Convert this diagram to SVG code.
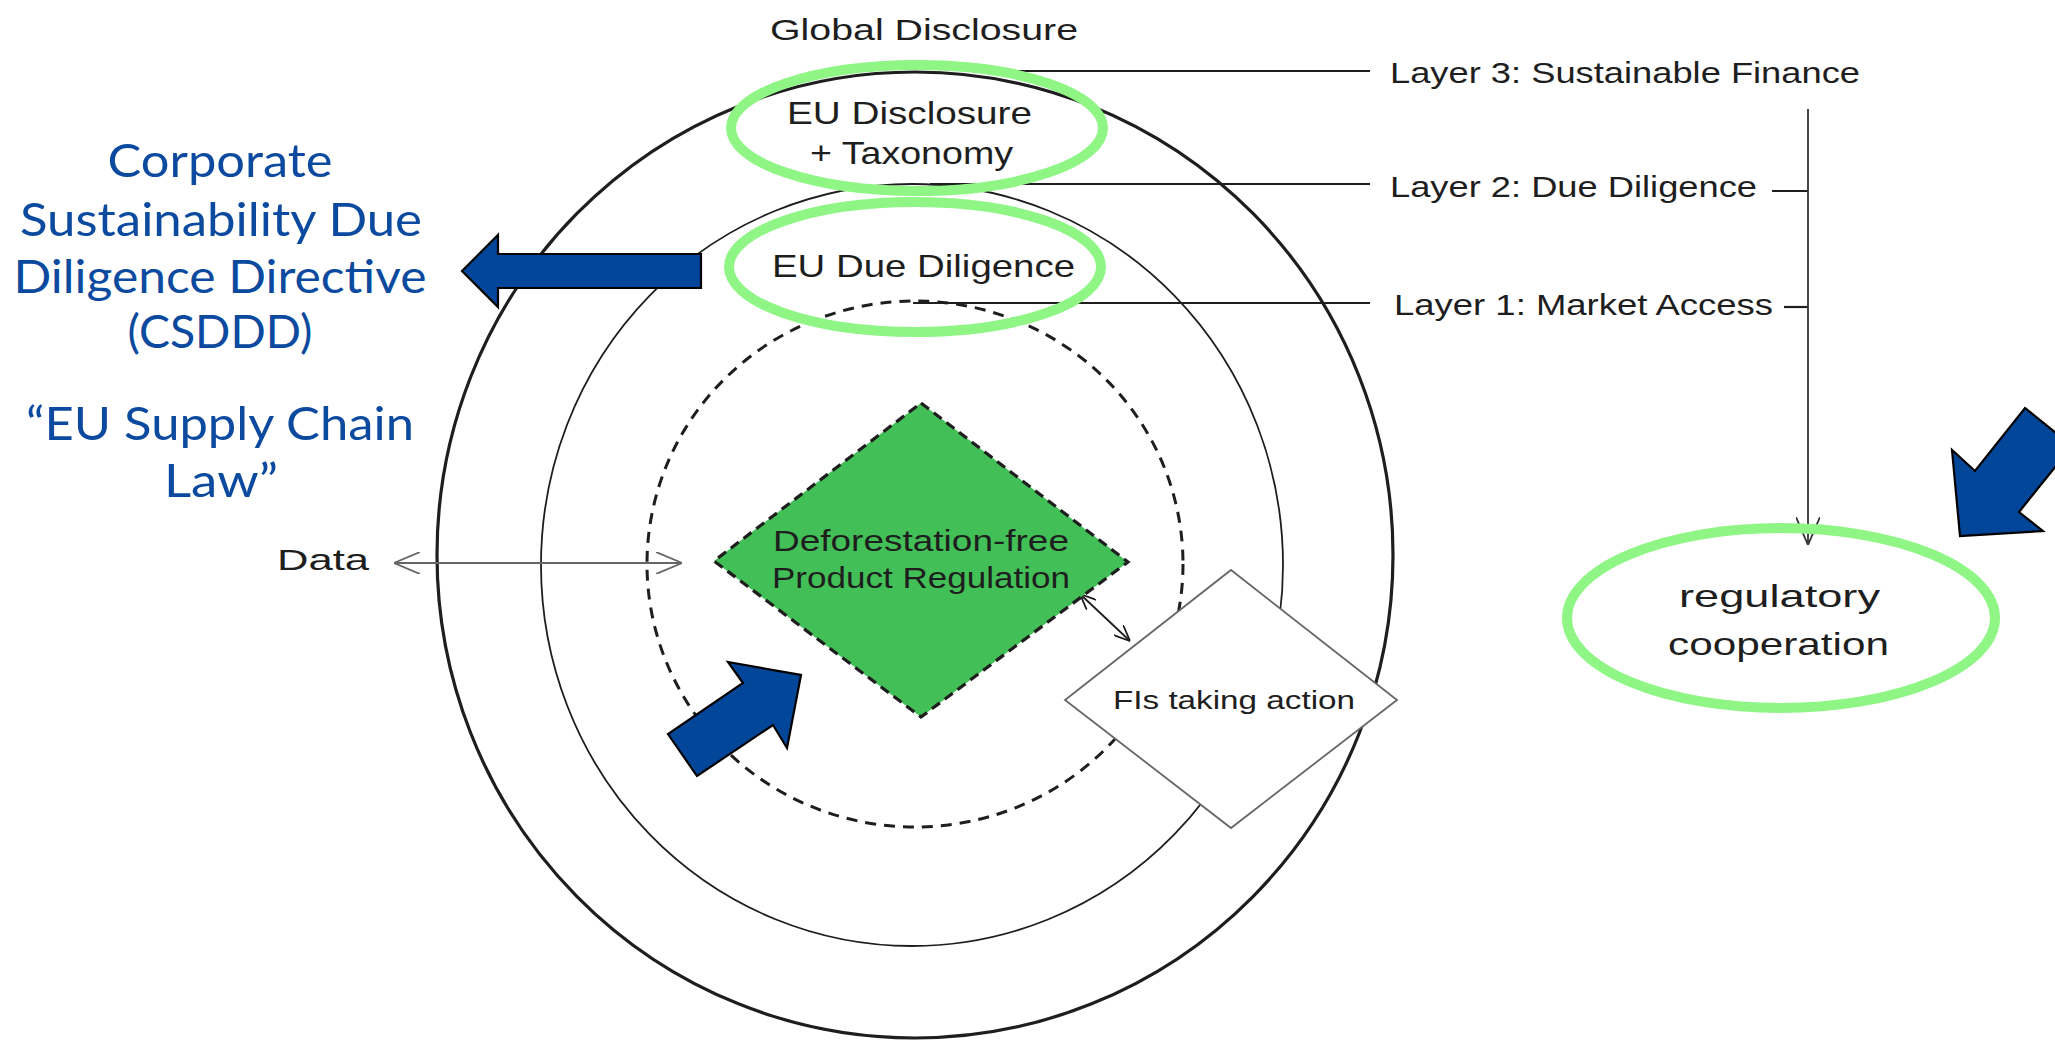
<svg xmlns="http://www.w3.org/2000/svg" width="2055" height="1040" viewBox="0 0 2055 1040">
<style>
.hand{font-family:"Liberation Sans","DejaVu Sans",sans-serif;fill:#1e1e1e;}
.blue{font-family:Lato,"Open Sans",sans-serif;fill:#0b4a9e;font-size:46px;text-anchor:middle;}
.ring{fill:none;stroke:#1e1e1e;}
.hl{fill:none;stroke:#8ff686;stroke-width:10;}
.barrow{fill:#02469a;stroke:#000;stroke-width:2.2;stroke-linejoin:miter;}
.conn{fill:none;stroke:#1e1e1e;stroke-width:2.2;}
</style>
<defs>
<marker id="openLg" viewBox="0 0 28 24" refX="28" refY="12" markerWidth="28" markerHeight="24" markerUnits="userSpaceOnUse" orient="auto-start-reverse">
<path d="M0,0 L28,12 L0,24" fill="none" stroke="#333" stroke-width="1.8"/>
</marker>
<marker id="openGray" viewBox="0 0 26 22" refX="26" refY="11" markerWidth="26" markerHeight="22" markerUnits="userSpaceOnUse" orient="auto-start-reverse">
<path d="M0,0 L26,11 L0,22" fill="none" stroke="#666" stroke-width="1.8"/>
</marker>
<marker id="openSm" viewBox="0 0 16 14" refX="16" refY="7" markerWidth="16" markerHeight="14" markerUnits="userSpaceOnUse" orient="auto-start-reverse">
<path d="M0,0 L16,7 L0,14" fill="none" stroke="#1e1e1e" stroke-width="1.8"/>
</marker>
</defs>
<rect width="2055" height="1040" fill="#fff"/>

<g id="outer-ring"><ellipse class="ring" cx="915" cy="555" rx="478" ry="483" stroke-width="3.2"/></g>
<g id="middle-ring"><ellipse class="ring" cx="912" cy="565" rx="371" ry="381" stroke-width="1.8"/></g>
<g id="inner-ring"><ellipse class="ring" cx="915" cy="564" rx="268" ry="263" stroke-width="3" stroke-dasharray="11 8"/></g>

<g id="connectors">
<line class="conn" x1="990" y1="71" x2="1370" y2="71"/>
<line class="conn" x1="930" y1="184" x2="1370" y2="184"/>
<line class="conn" x1="913" y1="303" x2="1370" y2="303"/>
<line class="conn" x1="1772" y1="191" x2="1808" y2="191"/>
<line class="conn" x1="1784" y1="307" x2="1808" y2="307"/>
<line x1="1808" y1="109" x2="1808" y2="545" fill="none" stroke="#333" stroke-width="1.8" marker-end="url(#openLg)"/>
<line x1="394" y1="563" x2="682" y2="563" fill="none" stroke="#666" stroke-width="1.8" marker-start="url(#openGray)" marker-end="url(#openGray)"/>
<line x1="1080" y1="594" x2="1130" y2="641" fill="none" stroke="#1e1e1e" stroke-width="1.8" marker-start="url(#openSm)" marker-end="url(#openSm)"/>
</g>

<g id="global-disclosure"><text class="hand" x="770" y="40" font-size="30" textLength="308" lengthAdjust="spacingAndGlyphs">Global Disclosure</text></g>

<g id="eu-disclosure">
<ellipse class="hl" cx="917" cy="128" rx="186" ry="63"/>
<text class="hand" x="787" y="124" font-size="32" textLength="245" lengthAdjust="spacingAndGlyphs">EU Disclosure</text>
<text class="hand" x="810" y="164" font-size="32" textLength="203" lengthAdjust="spacingAndGlyphs">+ Taxonomy</text>
</g>

<g id="eu-due-diligence">
<ellipse class="hl" cx="915" cy="267" rx="186" ry="65"/>
<text class="hand" x="772" y="277" font-size="32" textLength="303" lengthAdjust="spacingAndGlyphs">EU Due Diligence</text>
</g>

<g id="layer3"><text class="hand" x="1390" y="83" font-size="30" textLength="470" lengthAdjust="spacingAndGlyphs">Layer 3: Sustainable Finance</text></g>
<g id="layer2"><text class="hand" x="1390" y="197" font-size="30" textLength="367" lengthAdjust="spacingAndGlyphs">Layer 2: Due Diligence</text></g>
<g id="layer1"><text class="hand" x="1394" y="315" font-size="30" textLength="379" lengthAdjust="spacingAndGlyphs">Layer 1: Market Access</text></g>

<g id="regulatory-cooperation">
<ellipse class="hl" cx="1781" cy="618" rx="214" ry="90"/>
<text class="hand" x="1679" y="607" font-size="32" textLength="201" lengthAdjust="spacingAndGlyphs">regulatory</text>
<text class="hand" x="1668" y="655" font-size="32" textLength="221" lengthAdjust="spacingAndGlyphs">cooperation</text>
</g>

<g id="deforestation-regulation">
<polygon points="921,403 1128,562 921,717 714,561" fill="#42bf57" stroke="#1e1e1e" stroke-width="3.2" stroke-dasharray="10 6"/>
<text class="hand" x="773" y="551" font-size="30" textLength="296" lengthAdjust="spacingAndGlyphs">Deforestation-free</text>
<text class="hand" x="772" y="588" font-size="30" textLength="298" lengthAdjust="spacingAndGlyphs">Product Regulation</text>
</g>

<g id="fis-taking-action">
<polygon points="1231,570 1397,700 1231,828 1065,700" fill="#fff" stroke="#666" stroke-width="1.8"/>
<text class="hand" x="1113" y="709" font-size="26" textLength="242" lengthAdjust="spacingAndGlyphs">FIs taking action</text>
</g>

<g id="data"><text class="hand" x="277" y="570" font-size="30" textLength="92" lengthAdjust="spacingAndGlyphs">Data</text></g>

<g id="csddd-label">
<text class="blue" x="220" y="177" textLength="225" lengthAdjust="spacingAndGlyphs">Corporate</text>
<text class="blue" x="221" y="236" textLength="402" lengthAdjust="spacingAndGlyphs">Sustainability Due</text>
<text class="blue" x="220" y="293" textLength="413" lengthAdjust="spacingAndGlyphs">Diligence Directive</text>
<text class="blue" x="220" y="348" textLength="185" lengthAdjust="spacingAndGlyphs">(CSDDD)</text>
<text class="blue" x="220" y="440" textLength="388" lengthAdjust="spacingAndGlyphs">“EU Supply Chain</text>
<text class="blue" x="221" y="497" textLength="114" lengthAdjust="spacingAndGlyphs">Law”</text>
</g>

<g id="arrow-left"><polygon class="barrow" points="462,271 498,235 498,254 701,254 701,288 498,288 498,307"/></g>
<g id="arrow-up-right"><polygon class="barrow" points="801,675 787,748 773,725 697,776 668,734 743,683 728,662"/></g>
<g id="arrow-down-left"><polygon class="barrow" points="1960,536 1952,450 1975,471 2025,408 2072,446 2019,512 2043,531"/></g>
</svg>
